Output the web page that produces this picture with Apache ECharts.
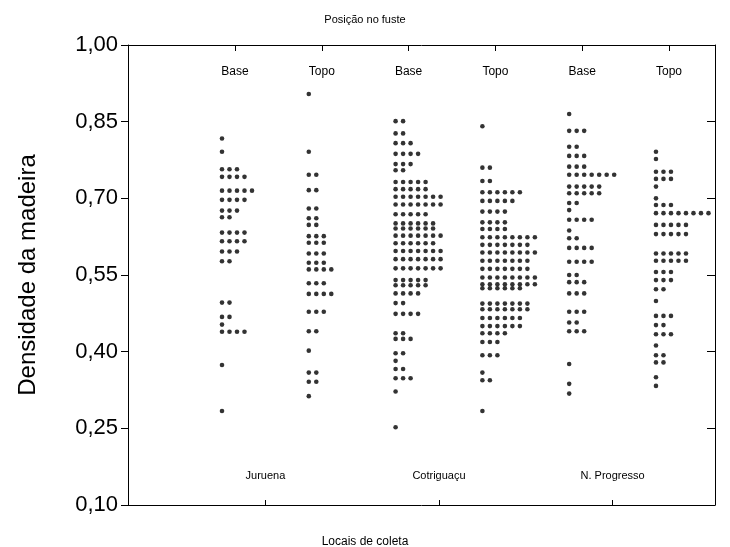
<!DOCTYPE html>
<html>
<head>
<meta charset="utf-8">
<script src="https://cdn.jsdelivr.net/npm/echarts@6/dist/echarts.min.js"></script>
<style>
html,body{margin:0;padding:0;background:#fff;}
#chart{width:730px;height:547px;}
</style>
</head>
<body>
<div id="chart"></div>
<script>
// Tick labels
const yTicks = [0.10, 0.25, 0.40, 0.55, 0.70, 0.85, 1.00];
const positionNames = ['Base', 'Topo', 'Base', 'Topo', 'Base', 'Topo'];
const siteNames = ['Juruena', 'Cotriguaçu', 'N. Progresso'];

// Each row: [wood density, number of trees with that value]
const juruenaBase = [[0.817,1],[0.791,1],[0.757,3],[0.742,4],[0.715,5],[0.697,4],[0.676,3],[0.663,2],[0.633,4],[0.616,4],[0.596,3],[0.577,2],[0.496,2],[0.468,2],[0.453,1],[0.439,4],[0.374,1],[0.284,1]];
const juruenaTopo = [[0.904,1],[0.791,1],[0.746,2],[0.716,2],[0.680,2],[0.661,2],[0.648,2],[0.626,3],[0.613,3],[0.592,3],[0.574,3],[0.561,4],[0.534,3],[0.513,4],[0.478,3],[0.440,2],[0.402,1],[0.359,2],[0.341,2],[0.313,1]];
const cotriguacuBase = [[0.851,2],[0.827,2],[0.808,3],[0.787,4],[0.767,3],[0.755,2],[0.732,5],[0.718,5],[0.703,7],[0.688,7],[0.669,5],[0.651,6],[0.641,6],[0.627,7],[0.612,6],[0.597,7],[0.581,7],[0.563,7],[0.540,5],[0.530,5],[0.514,4],[0.495,2],[0.474,4],[0.436,2],[0.425,3],[0.397,2],[0.382,1],[0.366,2],[0.348,3],[0.322,1],[0.252,1]];
const cotriguacuTopo = [[0.841,1],[0.760,2],[0.734,2],[0.712,6],[0.695,5],[0.674,4],[0.653,4],[0.640,4],[0.624,8],[0.609,7],[0.594,8],[0.578,7],[0.562,7],[0.545,8],[0.532,8],[0.524,6],[0.494,7],[0.483,7],[0.466,6],[0.450,6],[0.436,4],[0.419,3],[0.393,3],[0.359,1],[0.344,2],[0.284,1]];
const nProgressoBase = [[0.865,1],[0.832,3],[0.801,2],[0.783,3],[0.762,3],[0.746,7],[0.723,5],[0.710,5],[0.691,2],[0.677,1],[0.658,4],[0.637,1],[0.622,2],[0.603,4],[0.576,4],[0.550,2],[0.536,3],[0.514,3],[0.478,3],[0.457,2],[0.440,3],[0.376,1],[0.337,1],[0.318,1]];
const nProgressoTopo = [[0.791,1],[0.777,1],[0.752,3],[0.738,3],[0.723,1],[0.700,1],[0.687,3],[0.671,8],[0.648,5],[0.630,5],[0.592,5],[0.578,5],[0.556,3],[0.540,3],[0.522,2],[0.499,1],[0.470,3],[0.452,2],[0.434,3],[0.412,1],[0.393,2],[0.379,2],[0.350,1],[0.333,1]];

const groups = [juruenaBase, juruenaTopo, cotriguacuBase, cotriguacuTopo, nProgressoBase, nProgressoTopo];

// layout constants (axis units: one unit per group column)
const dotStep = 0.0864;
const labelOffset = 0.15;
const xMin = -1.083, xMax = 5.68;

const points = [];
groups.forEach((rows, gi) => {
  rows.forEach(([v, n]) => {
    for (let k = 0; k < n; k++) points.push([gi + k * dotStep, v]);
  });
});

const positionTicks = positionNames.map((_, i) => i + labelOffset);
const siteTicks = siteNames.map((_, i) => 2 * i + 0.5);

const FONT = '"Liberation Sans", Arial, sans-serif';
const chart = echarts.init(document.getElementById('chart'), null, {renderer: 'canvas'});
chart.setOption({
  animation: false,
  backgroundColor: '#fff',
  title: [
    {text: 'Posição no fuste', left: 'center', top: 9,
     textStyle: {fontFamily: FONT, fontSize: 11, fontWeight: 'normal', color: '#000'}},
    {text: 'Locais de coleta', left: 'center', top: 531,
     textStyle: {fontFamily: FONT, fontSize: 12, fontWeight: 'normal', color: '#000'}}
  ],
  grid: {left: 128, top: 45, right: 15, bottom: 42, containLabel: false},
  xAxis: [
    {
      type: 'value', position: 'bottom', min: xMin, max: xMax,
      axisLine: {show: true, onZero: false, lineStyle: {color: '#000', width: 1}},
      axisTick: {show: true, inside: true, length: 5, customValues: siteTicks, lineStyle: {color: '#000'}},
      axisLabel: {show: true, inside: true, margin: 24, customValues: siteTicks,
        formatter: v => siteNames[Math.round((v - 0.5) / 2)],
        fontFamily: FONT, fontSize: 11, color: '#000'},
      splitLine: {show: false}
    },
    {
      type: 'value', position: 'top', min: xMin, max: xMax,
      axisLine: {show: true, onZero: false, lineStyle: {color: '#000', width: 1}},
      axisTick: {show: true, inside: true, length: 6, customValues: positionTicks, lineStyle: {color: '#000'}},
      axisLabel: {show: true, inside: true, margin: 21, customValues: positionTicks,
        formatter: v => positionNames[Math.round(v - labelOffset)],
        fontFamily: FONT, fontSize: 12, color: '#000'},
      splitLine: {show: false}
    }
  ],
  yAxis: [
    {
      type: 'value', position: 'left', min: 0.10, max: 1.00,
      name: 'Densidade da madeira', nameLocation: 'middle', nameGap: 88, nameRotate: 90,
      nameTextStyle: {fontFamily: FONT, fontSize: 24, color: '#000'},
      axisLine: {show: true, onZero: false, lineStyle: {color: '#000', width: 1}},
      axisTick: {show: true, inside: false, length: 7, customValues: yTicks, lineStyle: {color: '#000'}},
      axisLabel: {show: true, margin: 10, customValues: yTicks,
        formatter: v => v.toFixed(2).replace('.', ','),
        fontFamily: FONT, fontSize: 22, color: '#000'},
      splitLine: {show: false}
    },
    {
      type: 'value', position: 'right', min: 0.10, max: 1.00,
      axisLine: {show: true, onZero: false, lineStyle: {color: '#000', width: 1}},
      axisTick: {show: true, inside: true, length: 8, customValues: yTicks, lineStyle: {color: '#000'}},
      axisLabel: {show: false},
      splitLine: {show: false}
    }
  ],
  series: [{
    type: 'scatter',
    xAxisIndex: 0, yAxisIndex: 0,
    data: points,
    symbol: 'circle',
    symbolSize: 4.6,
    itemStyle: {color: '#000'},
    emphasis: {disabled: true},
    silent: true
  }]
});
</script>
</body>
</html>
